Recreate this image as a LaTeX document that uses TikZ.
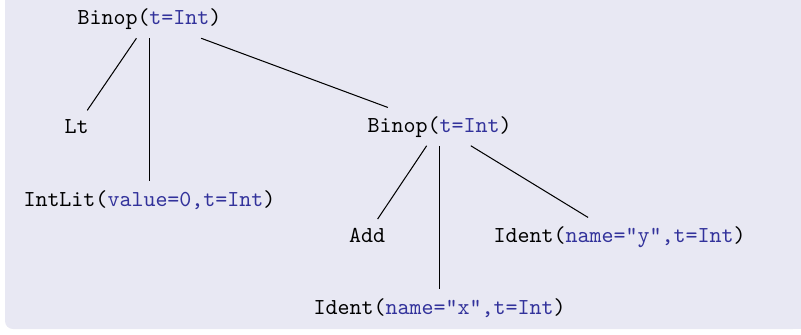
\documentclass[tikz,border=0pt]{standalone}
\definecolor{bgc}{RGB}{232,232,243}
\definecolor{fld}{RGB}{50,50,155}
\begin{document}
\begin{tikzpicture}[x=0.4375pt,y=-0.4375pt,
  tn/.style={font=\ttfamily\fontsize{10}{12}\selectfont, inner sep=3.6pt, anchor=base},
  edge/.style={draw=black, line width=0.45pt}]
\useasboundingbox (0,0) rectangle (801,334);
\fill[bgc, rounded corners=8*0.4375pt] (801,0) -- (5,0) -- (5,329) -- (801,329) [sharp corners] -- cycle;
\fill[bgc] (5,0) rectangle (801,20);
\fill[bgc] (700,0) rectangle (801,329);
\newcommand{\fv}[1]{\textcolor{fld}{#1}}
\node[tn] (root) at (149.5,24.5) {Binop(\fv{t=Int})};
\node[tn] (lt) at (76.5,133) {Lt};
\node[tn] (lit) at (149.5,206) {IntLit(\fv{value=0,t=Int})};
\node[tn] (bin) at (439.5,132) {Binop(\fv{t=Int})};
\node[tn] (add) at (367,242) {Add};
\node[tn] (idx) at (439.5,314) {Ident(\fv{name="x",t=Int})};
\node[tn] (idy) at (619.5,242) {Ident(\fv{name="y",t=Int})};
\draw[edge] (root) -- (lt);
\draw[edge] (root) -- (lit);
\draw[edge] (root) -- (bin);
\draw[edge] (bin) -- (add);
\draw[edge] (bin) -- (idx);
\draw[edge] (bin) -- (idy);
\end{tikzpicture}
\end{document}
